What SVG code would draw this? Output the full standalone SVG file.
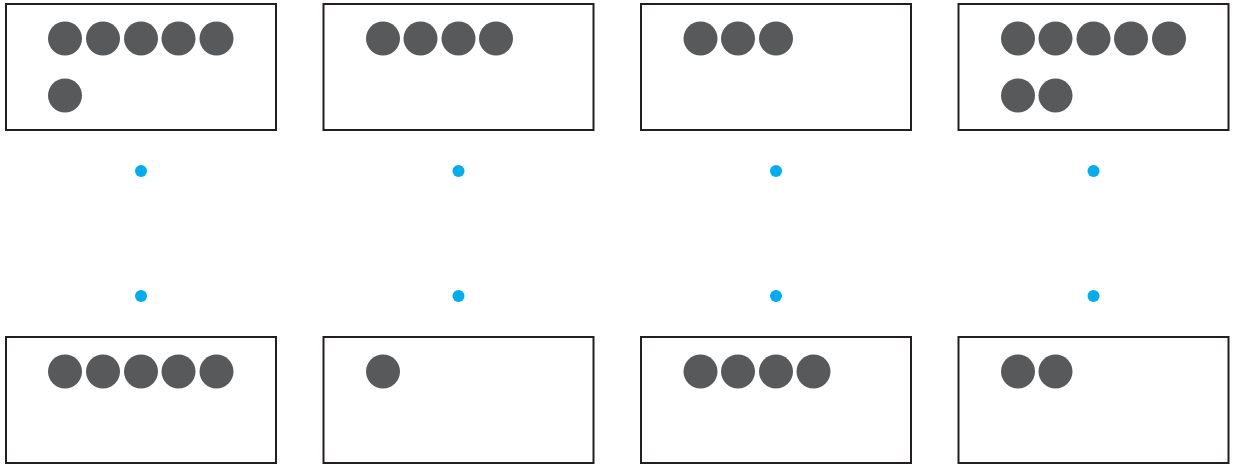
<svg xmlns="http://www.w3.org/2000/svg" width="1235" height="466" viewBox="0 0 1235 466">
<style>
.box{fill:#fff;stroke:#231f20;stroke-width:2}
.c{fill:#58595b}
.d{fill:#00aeef}
</style>
<rect width="1235" height="466" fill="#fff"/>
<g id="top1"><rect class="box" x="6" y="4" width="270" height="126"/>
<circle class="c" cx="65" cy="38.5" r="17"/><circle class="c" cx="103" cy="38.5" r="17"/><circle class="c" cx="141" cy="38.5" r="17"/><circle class="c" cx="178.5" cy="38.5" r="17"/><circle class="c" cx="216.5" cy="38.5" r="17"/><circle class="c" cx="65" cy="95.5" r="17"/></g>
<g id="top2"><rect class="box" x="323.5" y="4" width="270" height="126"/>
<circle class="c" cx="383" cy="38.5" r="17"/><circle class="c" cx="420.5" cy="38.5" r="17"/><circle class="c" cx="458.5" cy="38.5" r="17"/><circle class="c" cx="496" cy="38.5" r="17"/></g>
<g id="top3"><rect class="box" x="641" y="4" width="270" height="126"/>
<circle class="c" cx="700.5" cy="38.5" r="17"/><circle class="c" cx="738" cy="38.5" r="17"/><circle class="c" cx="776" cy="38.5" r="17"/></g>
<g id="top4"><rect class="box" x="958.5" y="4" width="270" height="126"/>
<circle class="c" cx="1018" cy="38.5" r="17"/><circle class="c" cx="1055.5" cy="38.5" r="17"/><circle class="c" cx="1093.5" cy="38.5" r="17"/><circle class="c" cx="1131" cy="38.5" r="17"/><circle class="c" cx="1169" cy="38.5" r="17"/><circle class="c" cx="1018" cy="95.5" r="17"/><circle class="c" cx="1055.5" cy="95.5" r="17"/></g>
<g id="bot1"><rect class="box" x="6" y="337" width="270" height="126"/>
<circle class="c" cx="65" cy="371.5" r="17"/><circle class="c" cx="103" cy="371.5" r="17"/><circle class="c" cx="141" cy="371.5" r="17"/><circle class="c" cx="178.5" cy="371.5" r="17"/><circle class="c" cx="216.5" cy="371.5" r="17"/></g>
<g id="bot2"><rect class="box" x="323.5" y="337" width="270" height="126"/>
<circle class="c" cx="383" cy="371.5" r="17"/></g>
<g id="bot3"><rect class="box" x="641" y="337" width="270" height="126"/>
<circle class="c" cx="700.5" cy="371.5" r="17"/><circle class="c" cx="738" cy="371.5" r="17"/><circle class="c" cx="776" cy="371.5" r="17"/><circle class="c" cx="813.5" cy="371.5" r="17"/></g>
<g id="bot4"><rect class="box" x="958.5" y="337" width="270" height="126"/>
<circle class="c" cx="1018" cy="371.5" r="17"/><circle class="c" cx="1055.5" cy="371.5" r="17"/></g>
<g id="connectors">
<circle class="d" cx="141" cy="171" r="6"/><circle class="d" cx="141" cy="296" r="6"/>
<circle class="d" cx="458.5" cy="171" r="6"/><circle class="d" cx="458.5" cy="296" r="6"/>
<circle class="d" cx="776" cy="171" r="6"/><circle class="d" cx="776" cy="296" r="6"/>
<circle class="d" cx="1093.5" cy="171" r="6"/><circle class="d" cx="1093.5" cy="296" r="6"/>
</g>
</svg>
